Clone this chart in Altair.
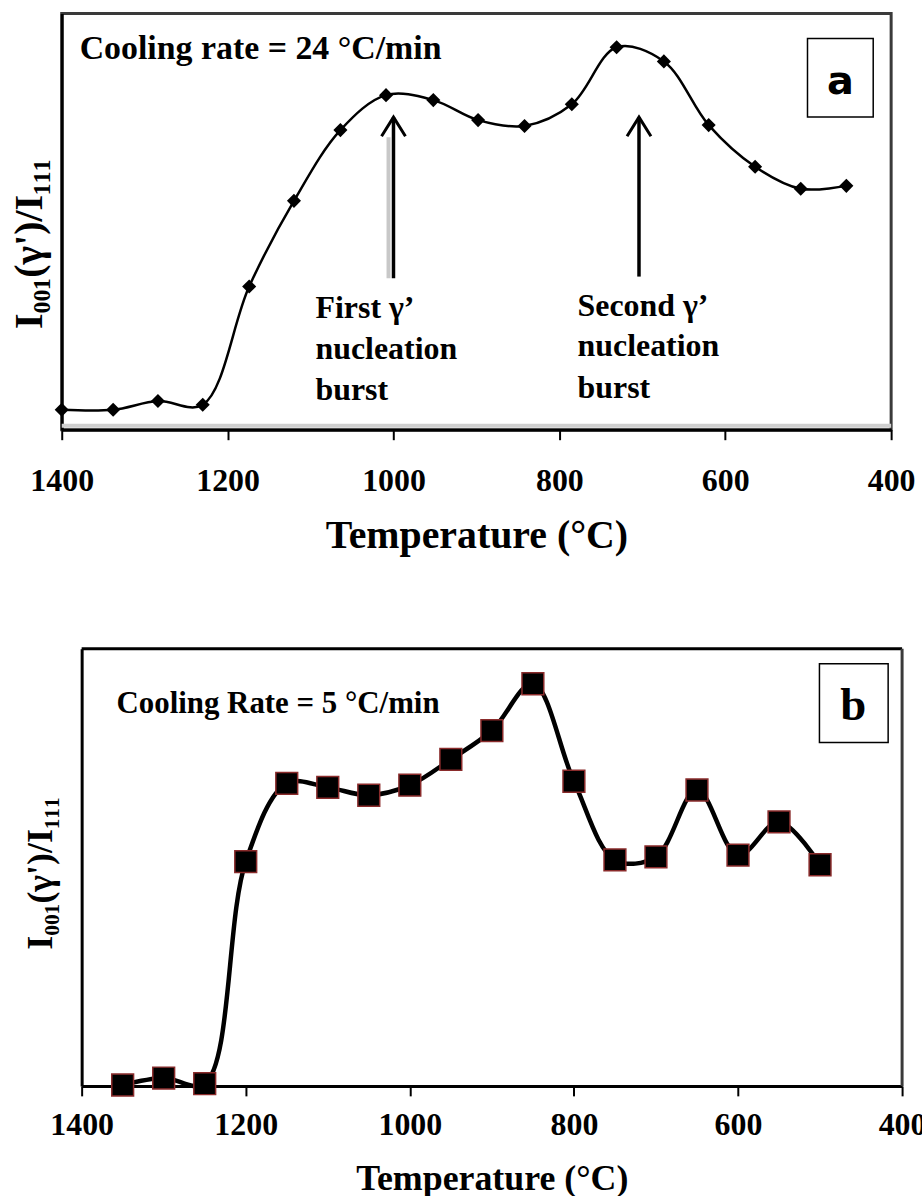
import altair as alt
import pandas as pd

FONT = "Liberation Serif"

# (a) cooling at 24 °C/min: temperature (°C) and relative I001/I111 intensity
temp_a = [1400, 1338, 1284, 1230, 1174, 1120, 1064, 1009, 952, 898,
          842, 785, 731, 674, 620, 564, 509, 454]
ratio_a = [4.8, 4.8, 6.9, 6.0, 34.4, 55.0, 72.0, 80.4, 79.2, 74.4,
           73.0, 78.2, 91.9, 88.5, 73.2, 63.2, 57.9, 58.6]

# (b) cooling at 5 °C/min
temp_b = [1350, 1300, 1250, 1200, 1150, 1100, 1050, 1000, 950, 900,
          850, 800, 750, 700, 650, 600, 550, 500]
ratio_b = [0.2, 1.8, 0.5, 51.3, 69.2, 68.3, 66.5, 68.8, 74.7, 81.3,
           92.0, 69.7, 51.7, 52.4, 67.7, 52.8, 60.4, 50.6]

x_ticks = [1400, 1200, 1000, 800, 600, 400]

# nucleation-burst arrows in (a)
arrow_temp = [1000, 704]
arrow_tail = [36.4, 36.8]
arrow_head = [75.1, 75.1]

# faint grey ghost line beside the first arrow
ghost_temp = [1006]
ghost_lo = [36.4]
ghost_hi = [70.3]

# arrow captions in (a), one row per text line (value = text baseline)
caption_temp = [1094, 1094, 1094, 778, 778, 778]
caption_val = [26.8, 17.0, 7.2, 27.3, 17.7, 7.7]
caption_text = ["First γ’", "nucleation", "burst",
                "Second γ’", "nucleation", "burst"]

Y_TITLE = "I₀₀₁(γ')/I₁₁₁"

df_a = pd.DataFrame({"temp": temp_a, "val": ratio_a})
df_b = pd.DataFrame({"temp": temp_b, "val": ratio_b})
df_arrow = pd.DataFrame({"temp": arrow_temp, "val": arrow_tail, "val2": arrow_head})
df_head = pd.DataFrame({"temp": arrow_temp, "val": arrow_head})
df_ghost = pd.DataFrame({"temp": ghost_temp, "val": ghost_lo, "val2": ghost_hi})
df_cap = pd.DataFrame({"temp": caption_temp, "val": caption_val, "label": caption_text})
one = pd.DataFrame({"k": [0]})

W_A, H_A = 833, 418          # panel (a) plot area
W_B, H_B = 844, 439          # panel (b) group; its x range starts 20 px in
B_X0 = 20


def x_enc(x_range, label_pad, title_y, title_size):
    return alt.X(
        "temp:Q",
        scale=alt.Scale(domain=[1400, 400], range=x_range, nice=False, zero=False),
        axis=alt.Axis(values=x_ticks, format="d", title="Temperature (°C)",
                      labelPadding=label_pad, labelFlush=False, labelOverlap=False,
                      titleY=title_y, titleBaseline="middle", titleFontSize=title_size),
    )


def y_enc(title_x, title_y, title_size, offset=0):
    return alt.Y(
        "val:Q",
        scale=alt.Scale(domain=[0, 100], nice=False, zero=False),
        axis=alt.Axis(title=Y_TITLE, labels=False, ticks=False, offset=offset,
                      titleX=title_x, titleY=title_y, titleFontSize=title_size),
    )


def spacer(x, y):
    # transparent layout anchor that fixes the panel's outer bounds
    return alt.Chart(one).mark_rule(color="white", opacity=0, strokeWidth=1).encode(
        x=alt.value(x), x2=alt.value(x + 2), y=alt.value(y)
    )


# ---------- panel (a) ----------
line_a = alt.Chart(df_a).mark_line(
    color="black", strokeWidth=2.5, interpolate="catmull-rom"
).encode(x=x_enc([0, W_A], 26.5, 106, 40), y=y_enc(-12, 231, 40))

pts_a = alt.Chart(df_a).mark_point(
    shape="diamond", filled=True, color="black", size=200, opacity=1
).encode(x="temp:Q", y="val:Q")

shadow_a = alt.Chart(one).mark_rule(color="#cfcfcf", strokeWidth=4).encode(
    x=alt.value(0), x2=alt.value(W_A), y=alt.value(H_A - 4)
)

ghost = alt.Chart(df_ghost).mark_rule(color="#c8c8c8", strokeWidth=4).encode(
    x="temp:Q", y="val:Q", y2="val2:Q"
)

shafts = alt.Chart(df_arrow).mark_rule(color="black", strokeWidth=3.5).encode(
    x="temp:Q", y="val:Q", y2="val2:Q"
)

heads = alt.Chart(df_head).mark_point(
    shape="M-0.5,0.8L0,0L0.5,0.8", filled=False, color="black",
    strokeWidth=3, size=2304, opacity=1
).encode(x="temp:Q", y="val:Q")

captions = alt.Chart(df_cap).mark_text(
    align="left", baseline="alphabetic", font=FONT, fontWeight="bold",
    fontSize=32, color="black"
).encode(x="temp:Q", y="val:Q", text="label:N")

rate_a = alt.Chart(one).mark_text(
    align="left", baseline="middle", font=FONT, fontWeight="bold",
    fontSize=34, color="black"
).encode(x=alt.value(18), y=alt.value(36), text=alt.value("Cooling rate = 24 °C/min"))

box_a = alt.Chart(one).mark_rect(fill="white", stroke="black", strokeWidth=1.5).encode(
    x=alt.value(749), x2=alt.value(815), y=alt.value(25), y2=alt.value(104)
)

tag_a = alt.Chart(one).mark_text(
    font="DejaVu Sans", fontWeight="bold", fontSize=40, color="black",
    baseline="middle"
).encode(x=alt.value(782), y=alt.value(69), text=alt.value("a"))

panel_a = alt.layer(
    shadow_a, ghost, line_a, pts_a, shafts, heads, captions, rate_a, box_a, tag_a,
    spacer(-60, -9), spacer(0, 566),
).properties(width=W_A, height=H_A)

# ---------- panel (b) ----------
line_b = alt.Chart(df_b).mark_line(
    color="black", strokeWidth=4.5, interpolate="catmull-rom"
).encode(x=x_enc([B_X0, W_B], 13.5, 93, 36), y=y_enc(-22, 225, 36, offset=-B_X0))

pts_b = alt.Chart(df_b).mark_square(
    size=480, fill="black", stroke="#8a2b2b", strokeWidth=1.5, opacity=1
).encode(x="temp:Q", y="val:Q")

top_b = alt.Chart(one).mark_rule(color="black", strokeWidth=3).encode(
    x=alt.value(B_X0), x2=alt.value(W_B), y=alt.value(0)
)
right_b = alt.Chart(one).mark_rule(color="#3a3a3a", strokeWidth=3).encode(
    x=alt.value(W_B), y=alt.value(0), y2=alt.value(H_B)
)

rate_b = alt.Chart(one).mark_text(
    align="left", baseline="middle", font=FONT, fontWeight="bold",
    fontSize=31, color="black"
).encode(x=alt.value(55), y=alt.value(55), text=alt.value("Cooling Rate = 5 °C/min"))

box_b = alt.Chart(one).mark_rect(fill="white", stroke="black", strokeWidth=1.5).encode(
    x=alt.value(761), x2=alt.value(830), y=alt.value(15), y2=alt.value(94)
)

tag_b = alt.Chart(one).mark_text(
    font=FONT, fontWeight="bold", fontSize=47, color="black", baseline="middle"
).encode(x=alt.value(795), y=alt.value(58), text=alt.value("b"))

panel_b = alt.layer(
    top_b, right_b, line_b, pts_b, rate_b, box_b, tag_b,
    spacer(0, -10), spacer(898, 0), spacer(0, 553),
).properties(width=W_B, height=H_B, view=alt.ViewBackground(stroke="transparent"))

chart = alt.concat(panel_a, panel_b, columns=1, spacing=58, align="each").properties(
    autosize=alt.AutoSizeParams(type="pad"),
    padding={"left": 0, "top": 0, "right": -38, "bottom": 0},
    background="white",
).configure_view(
    stroke="#3a3a3a", strokeWidth=3
).configure_axis(
    domainColor="black", domainWidth=3, tickColor="black", tickWidth=2,
    tickSize=10, grid=False,
    labelFont=FONT, labelFontWeight="bold", labelFontSize=32, labelColor="black",
    titleFont=FONT, titleFontWeight="bold", titleFontSize=38, titleColor="black",
)

chart.save("out.html", embed_options={"renderer": "svg", "actions": False})
